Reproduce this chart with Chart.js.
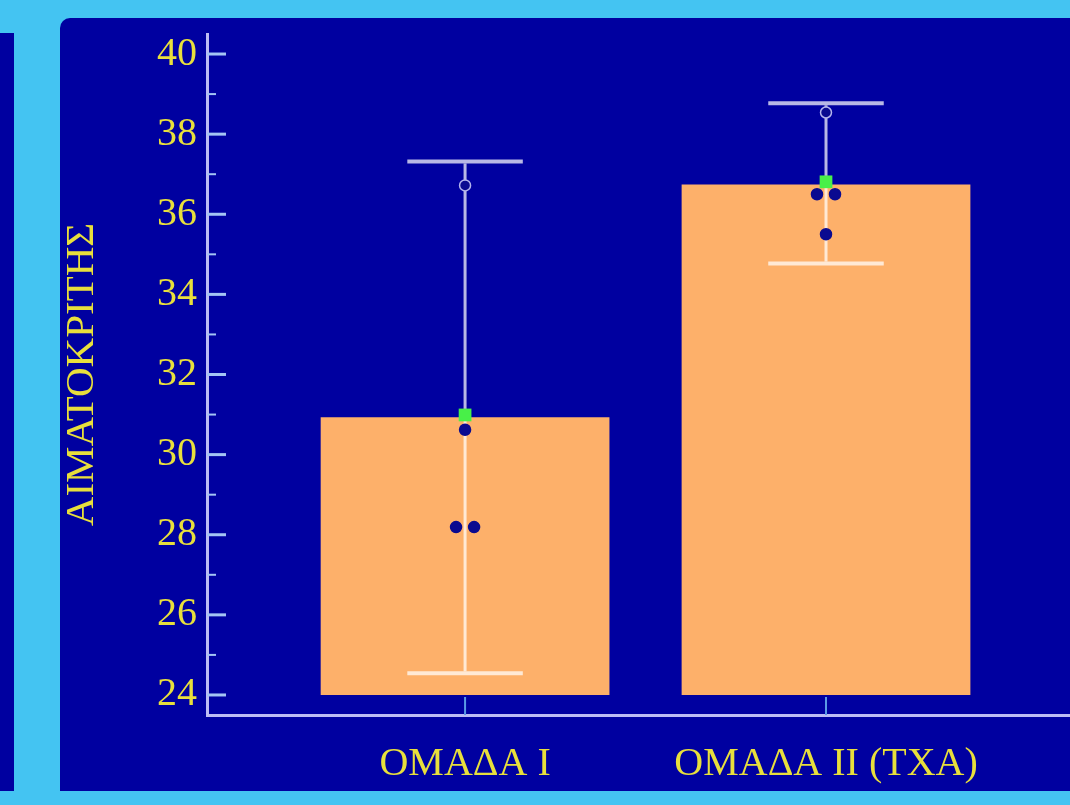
<!DOCTYPE html>
<html lang="el">
<head>
<meta charset="utf-8">
<title>ΑΙΜΑΤΟΚΡΙΤΗΣ</title>
<script src="https://cdn.jsdelivr.net/npm/chart.js@4.4.1/dist/chart.umd.min.js"></script>
<style>
  html, body { margin: 0; padding: 0; background: #44c4f2; }
  canvas { display: block; }
</style>
</head>
<body>
<canvas id="hctChart" width="1070" height="805"></canvas>
<script>
// values
const groups = ['ΟΜΑΔΑ I', 'ΟΜΑΔΑ II (TXA)'];
const barBase = 24;
const barTops = [30.93, 36.74];
const meanMarks = [30.99, 36.81];
const errLow = [24.54, 34.77];
const errHigh = [37.32, 38.77];
const pointsI = [36.72, 30.62, 28.19, 28.19];
const pointsII = [38.54, 36.5, 36.5, 35.5];
const yTicks = [24, 26, 28, 30, 32, 34, 36, 38, 40];

// colours
const SKY = '#44c4f2';
const NAVY = '#0000a0';
const YELLOW = '#e8df3c';
const AXIS = '#bcbcf4';
const TICK_BLUE = '#a4c4f4';
const ORANGE = '#fdb06a';
const SERIF = "'Liberation Serif', 'DejaVu Serif', serif";
const JITTER = 0.05; // gap between equal values, in group units

// spread equal values of a group side by side
function spread(values, groupIndex) {
    const seen = {};
    return values.map(v => {
        const n = values.filter(w => w === v).length;
        const k = seen[v] = (seen[v] === undefined ? 0 : seen[v] + 1);
        return { x: groupIndex + (k - (n - 1) / 2) * JITTER, y: v };
    });
}

const backdrop = {
    id: 'backdrop',
    beforeDraw(chart) {
        const { ctx, width } = chart;
        ctx.save();
        ctx.fillStyle = SKY;
        ctx.fillRect(0, 0, width, chart.height);
        ctx.fillStyle = NAVY;
        ctx.beginPath();
        ctx.roundRect(60, 18, width - 60, 773, [10, 0, 0, 0]);
        ctx.fill();
        ctx.fillRect(0, 33, 14, 758);
        ctx.restore();
    }
};

// whiskers go between the bars and the dots
const errorBars = {
    id: 'errorBars',
    afterDatasetDraw(chart, args) {
        if (args.meta.type !== 'bar') return;
        const { ctx, scales: { x, y } } = chart;
        ctx.save();
        ctx.strokeStyle = 'rgba(255, 255, 255, 0.72)';
        args.meta.data.forEach((bar, i) => {
            const cx = x.getPixelForValue(i);
            const top = y.getPixelForValue(errHigh[i]);
            const bot = y.getPixelForValue(errLow[i]);
            const half = bar.width * 0.2;
            ctx.lineWidth = 3;
            ctx.beginPath();
            ctx.moveTo(cx, top + 2);
            ctx.lineTo(cx, bot - 2);
            ctx.stroke();
            ctx.lineWidth = 4;
            ctx.beginPath();
            ctx.moveTo(cx - half, top);
            ctx.lineTo(cx + half, top);
            ctx.moveTo(cx - half, bot);
            ctx.lineTo(cx + half, bot);
            ctx.stroke();
        });
        ctx.restore();
    }
};

// tick marks point into the plot, like the original
const axisTicks = {
    id: 'axisTicks',
    afterDraw(chart) {
        const { ctx, chartArea, scales: { x, y } } = chart;
        ctx.save();
        ctx.strokeStyle = TICK_BLUE;
        yTicks.forEach((v, i) => {
            const py = y.getPixelForValue(v);
            ctx.lineWidth = 3;
            ctx.beginPath();
            ctx.moveTo(chartArea.left, py);
            ctx.lineTo(chartArea.left + 19, py);
            ctx.stroke();
            if (i < yTicks.length - 1) {
                const pm = y.getPixelForValue((v + yTicks[i + 1]) / 2);
                ctx.lineWidth = 2;
                ctx.beginPath();
                ctx.moveTo(chartArea.left, pm);
                ctx.lineTo(chartArea.left + 9, pm);
                ctx.stroke();
            }
        });
        ctx.strokeStyle = '#5a9ae6';
        ctx.lineWidth = 2;
        groups.forEach((g, i) => {
            const px = x.getPixelForValue(i);
            ctx.beginPath();
            ctx.moveTo(px, y.getPixelForValue(barBase) + 2);
            ctx.lineTo(px, chartArea.bottom);
            ctx.stroke();
        });
        ctx.restore();
    }
};

const labelFont = { family: SERIF, size: 40 };

new Chart(document.getElementById('hctChart'), {
    type: 'bar',
    data: {
        datasets: [{
            type: 'scatter',
            label: 'mean',
            data: meanMarks.map((v, i) => ({ x: i, y: v })),
            pointStyle: 'rect',
            pointRadius: 9,
            backgroundColor: '#48f048',
            borderColor: '#48f048',
            borderWidth: 0,
            order: 0
        }, {
            type: 'scatter',
            label: 'patients',
            data: spread(pointsI, 0).concat(spread(pointsII, 1)),
            pointRadius: 5.5,
            backgroundColor: '#0a0a90',
            borderWidth: 1.5,
            borderColor: c => (c.raw && c.raw.y > barTops[Math.round(c.raw.x)]) ? '#b4b4ec' : '#0a0a90',
            order: 1
        }, {
            label: 'ΑΙΜΑΤΟΚΡΙΤΗΣ',
            data: barTops.map((v, i) => ({ x: i, y: [barBase, v] })),
            backgroundColor: ORANGE,
            borderWidth: 0,
            barPercentage: 0.8,
            categoryPercentage: 1,
            order: 2
        }]
    },
    options: {
        responsive: false,
        animation: false,
        layout: { autoPadding: false, padding: { left: 58, top: 30, right: 0, bottom: 0 } },
        plugins: {
            legend: { display: false },
            tooltip: { enabled: false }
        },
        scales: {
            x: {
                type: 'linear',
                offset: false,
                min: -0.715,
                max: 1.676,
                grid: { display: false, drawTicks: false, offset: false },
                border: { color: AXIS, width: 3 },
                afterBuildTicks: s => { s.ticks = groups.map((g, i) => ({ value: i })); },
                afterFit: s => {
                    s.height = 90;
                    s.paddingLeft = 0;
                    s.paddingRight = 0;
                },
                ticks: {
                    color: YELLOW,
                    font: labelFont,
                    padding: 25,
                    maxRotation: 0,
                    autoSkip: false,
                    callback: v => groups[v]
                }
            },
            y: {
                min: 23.5,
                max: 40.5,
                grid: { display: false, drawTicks: false },
                border: { color: AXIS, width: 3 },
                afterBuildTicks: s => { s.ticks = yTicks.map(v => ({ value: v })); },
                afterFit: s => { s.width = 149; },
                ticks: { color: YELLOW, font: labelFont, padding: 10 },
                title: {
                    display: true,
                    text: 'ΑΙΜΑΤΟΚΡΙΤΗΣ',
                    color: YELLOW,
                    font: { family: SERIF, size: 41 },
                    padding: 0
                }
            }
        }
    },
    plugins: [backdrop, errorBars, axisTicks]
});
</script>
</body>
</html>
